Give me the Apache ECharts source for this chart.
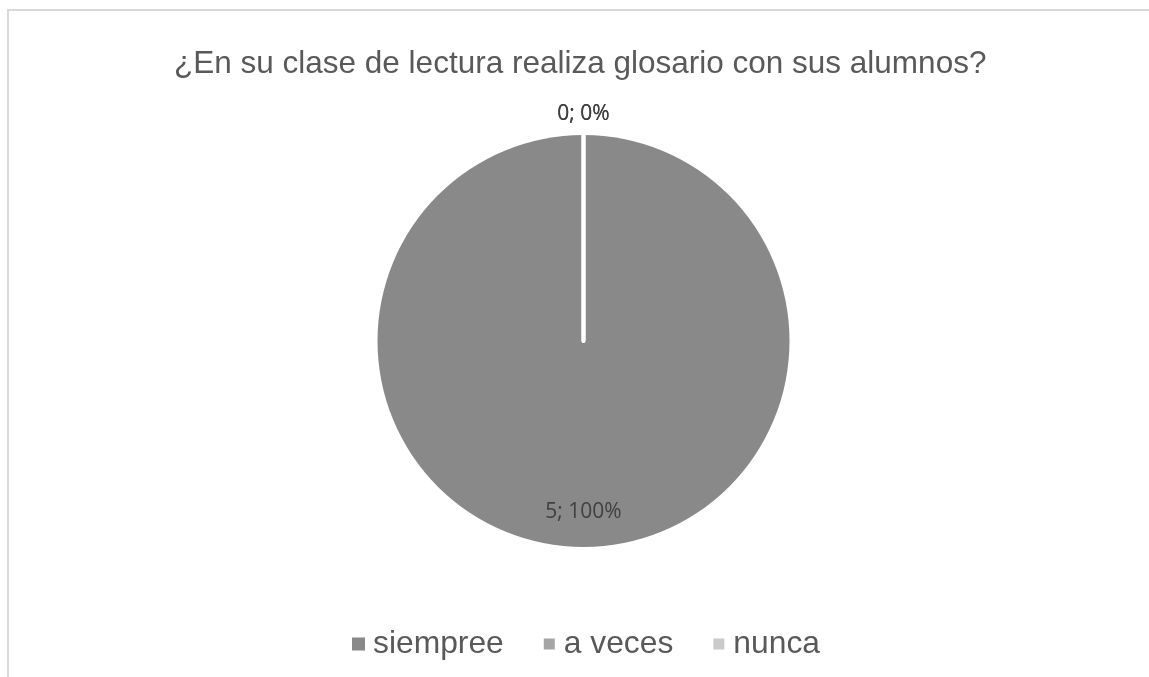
<!DOCTYPE html>
<html>
<head>
<meta charset="utf-8">
<script src="https://cdn.jsdelivr.net/npm/echarts@6/dist/echarts.min.js"></script>
<style>
  html, body { margin: 0; padding: 0; background: #fff; overflow: hidden; }
  #main { position: absolute; left: 0; top: 0; width: 1149px; height: 677px; }
  .frame { position: absolute; left: 7px; top: 9px; width: 2000px; height: 2000px;
           border-left: 2px solid #d9d9d9; border-top: 2px solid #d9d9d9; pointer-events: none; }
</style>
</head>
<body>
<div class="frame"></div>
<div id="main"></div>
<script>
  // datos de la encuesta
  const titulo = '¿En su clase de lectura realiza glosario con sus alumnos?'
  const categorias = ['siempree', 'a veces', 'nunca']
  const valores = [5, 0, 0]
  const colores = ['#898989', '#a5a5a5', '#cacaca']

  const total = valores.reduce((a, b) => a + b, 0)

  const datos = categorias.map((nombre, i) => ({
    name: nombre,
    value: valores[i],
    itemStyle: valores[i] === 0
      ? { color: colores[i], borderColor: '#ffffff', borderWidth: 4 }
      : { color: colores[i] }
  }))

  let chart = echarts.init(document.getElementById('main'), null, { renderer: 'canvas' })
  chart.setOption({
    animation: false,
    title: {
      text: titulo,
      left: 169,
      top: 43,
      textStyle: {
        fontFamily: 'Liberation Sans, Arial, sans-serif',
        fontSize: 31.5,
        fontWeight: 'normal',
        color: '#595959'
      }
    },
    legend: {
      data: categorias,
      left: 347,
      top: 623,
      icon: 'rect',
      itemWidth: 13,
      itemHeight: 13,
      itemGap: 38,
      textStyle: {
        fontFamily: 'Liberation Sans, Arial, sans-serif',
        fontSize: 31.8,
        color: '#595959',
        padding: [0, 0, 0, 3]
      }
    },
    series: [
      {
        name: 'glosario',
        type: 'pie',
        radius: 206,
        center: [583.5, 341],
        startAngle: 90,
        clockwise: true,
        avoidLabelOverlap: false,
        label: {
          show: true,
          position: 'inside',
          formatter: p => p.value + '; ' + Math.round(p.value / total * 100) + '%',
          fontFamily: 'Open Sans, Noto Sans, sans-serif',
          fontSize: 21,
          color: '#404040'
        },
        labelLine: { show: false },
        labelLayout: function (p) {
          if (valores[p.dataIndex] > 0) {
            return { dy: 65 }
          }
          return {
            x: p.rect.x + p.rect.width / 2,
            y: p.rect.y - 19,
            align: 'center',
            verticalAlign: 'middle'
          }
        },
        emphasis: { disabled: true },
        data: datos
      }
    ]
  })
</script>
</body>
</html>
